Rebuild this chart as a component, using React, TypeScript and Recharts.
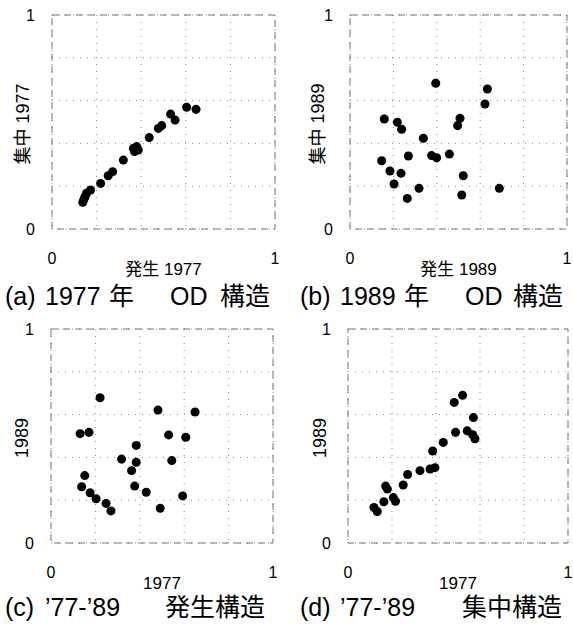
import React from 'react'
import { ScatterChart, Scatter, XAxis, YAxis, ZAxis, CartesianGrid, ReferenceArea } from 'recharts'

// (a) 1977: 発生 vs 集中
const a1977Hassei = [0.604, 0.646, 0.532, 0.552, 0.492, 0.477, 0.436, 0.380, 0.365, 0.387, 0.370, 0.320, 0.272, 0.252, 0.218, 0.173, 0.155, 0.148, 0.138, 0.143]
const a1977Shuchu = [0.569, 0.559, 0.537, 0.509, 0.483, 0.470, 0.427, 0.385, 0.377, 0.369, 0.362, 0.322, 0.268, 0.249, 0.213, 0.182, 0.167, 0.151, 0.125, 0.138]

// (b) 1989: 発生 vs 集中
const b1989Hassei = [0.395, 0.633, 0.622, 0.158, 0.218, 0.238, 0.507, 0.496, 0.338, 0.146, 0.269, 0.376, 0.399, 0.458, 0.184, 0.235, 0.203, 0.318, 0.264, 0.522, 0.515, 0.688]
const b1989Shuchu = [0.681, 0.654, 0.584, 0.514, 0.499, 0.466, 0.517, 0.483, 0.424, 0.319, 0.341, 0.343, 0.333, 0.350, 0.271, 0.260, 0.210, 0.190, 0.143, 0.249, 0.159, 0.190]

// (c) 発生構造 1977 vs 1989
const c1977 = [0.221, 0.482, 0.649, 0.131, 0.171, 0.530, 0.607, 0.384, 0.318, 0.384, 0.544, 0.363, 0.152, 0.138, 0.176, 0.203, 0.248, 0.270, 0.377, 0.429, 0.492, 0.593]
const c1989 = [0.679, 0.621, 0.612, 0.511, 0.517, 0.505, 0.494, 0.456, 0.392, 0.377, 0.385, 0.338, 0.315, 0.263, 0.235, 0.207, 0.185, 0.150, 0.266, 0.237, 0.162, 0.220]

// (d) 集中構造 1977 vs 1989
const d1977 = [0.521, 0.483, 0.570, 0.489, 0.542, 0.567, 0.577, 0.433, 0.385, 0.395, 0.373, 0.327, 0.271, 0.251, 0.171, 0.179, 0.206, 0.216, 0.163, 0.118, 0.133]
const d1989 = [0.690, 0.657, 0.586, 0.517, 0.524, 0.506, 0.487, 0.470, 0.430, 0.352, 0.346, 0.338, 0.320, 0.271, 0.266, 0.252, 0.212, 0.195, 0.193, 0.166, 0.147]

const gridTicks = [0, 0.2, 0.4, 0.6, 0.8, 1]

const FONT = "'Liberation Sans', Arial, 'Noto Sans CJK JP', sans-serif"

const zip = (xs: number[], ys: number[]) => xs.map((x, i) => ({ x, y: ys[i] }))
const endsOnly = (v: number) => (v === 0 || v === 1 ? String(v) : '')

type PanelProps = {
  left: number
  top: number
  width: number
  height: number
  yw: number
  mr: number
  xs: number[]
  ys: number[]
  xLabel: string
  yLabel: string
  yLabelX: number
}

function Panel({ left, top, width, height, yw, mr, xs, ys, xLabel, yLabel, yLabelX }: PanelProps) {
  const data = zip(xs, ys)
  const xh = height - 15 - 214
  return (
    <div style={{ position: 'absolute', left, top }}>
      <ScatterChart width={width} height={height} margin={{ top: 15, right: mr, bottom: 0, left: 0 }}>
        <CartesianGrid stroke="#8a8a8a" strokeDasharray="1 6" />
        <ReferenceArea x1={0} x2={1} y1={0} y2={1} fill="none" stroke="#777" strokeDasharray="7 5" strokeWidth={1} />
        <XAxis
          type="number"
          dataKey="x"
          domain={[0, 1]}
          ticks={gridTicks}
          tickFormatter={endsOnly}
          axisLine={false}
          tickLine={false}
          tickSize={0}
          tickMargin={24}
          height={xh}
          tick={{ fill: '#000', fontSize: 16, fontFamily: FONT }}
          label={{ value: xLabel, position: 'insideTop', offset: 34, fill: '#000', fontSize: 17, fontFamily: FONT }}
        />
        <YAxis
          type="number"
          dataKey="y"
          domain={[0, 1]}
          ticks={gridTicks}
          tickFormatter={endsOnly}
          axisLine={false}
          tickLine={false}
          tickSize={0}
          tickMargin={17}
          width={yw}
          tick={{ fill: '#000', fontSize: 16, fontFamily: FONT }}
          label={{
            content: (p: any) => {
              const vb = p.viewBox || { y: 15, height: 214 }
              const cy = vb.y + vb.height / 2 + 2
              return (
                <text
                  x={yLabelX}
                  y={cy}
                  transform={`rotate(-90 ${yLabelX} ${cy})`}
                  textAnchor="middle"
                  dominantBaseline="central"
                  fontSize={18}
                  fontFamily={FONT}
                  fill="#000"
                >
                  {yLabel}
                </text>
              )
            },
          }}
        />
        <ZAxis range={[85, 85]} />
        <Scatter data={data} fill="#000" isAnimationActive={false} />
      </ScatterChart>
    </div>
  )
}

function Caption({ top, parts }: { top: number; parts: [number, string][] }) {
  return (
    <>
      {parts.map(([x, t], i) => (
        <span
          key={i}
          style={{
            position: 'absolute',
            left: x,
            top,
            fontSize: 25,
            lineHeight: '28px',
            fontFamily: FONT,
            whiteSpace: 'pre',
            color: '#000',
          }}
        >
          {t}
        </span>
      ))}
    </>
  )
}

export default function App() {
  return (
    <div style={{ position: 'absolute', left: 0, top: 0, width: 573, height: 630, background: '#fff', overflow: 'hidden' }}>
      <Panel left={0} top={0} width={290} height={310} yw={52} mr={15} xs={a1977Hassei} ys={a1977Shuchu} xLabel="発生 1977" yLabel="集中 1977" yLabelX={23} />
      <Panel left={290} top={0} width={283} height={310} yw={60} mr={6} xs={b1989Hassei} ys={b1989Shuchu} xLabel="発生 1989" yLabel="集中 1989" yLabelX={28} />
      <Panel left={0} top={314} width={290} height={316} yw={51} mr={17} xs={c1977} ys={c1989} xLabel="1977" yLabel="1989" yLabelX={22} />
      <Panel left={290} top={314} width={283} height={316} yw={58} mr={5} xs={d1977} ys={d1989} xLabel="1977" yLabel="1989" yLabelX={30} />
      <Caption top={282} parts={[[5, '(a)'], [45, '1977'], [109, '年'], [170, 'OD'], [220, '構造']]} />
      <Caption top={282} parts={[[300, '(b)'], [340, '1989'], [404, '年'], [465, 'OD'], [513, '構造']]} />
      <Caption top={593} parts={[[5, '(c)'], [45, '\u201977-\u201989'], [165, '発生構造']]} />
      <Caption top={593} parts={[[300, '(d)'], [340, '\u201977-\u201989'], [462, '集中構造']]} />
    </div>
  )
}
